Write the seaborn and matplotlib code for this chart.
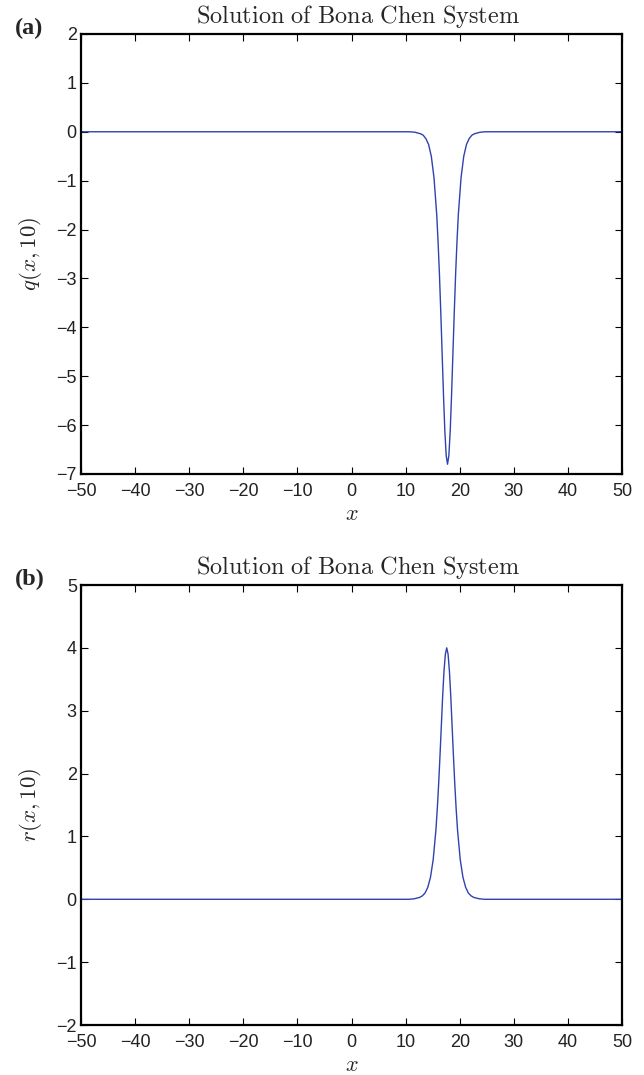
import matplotlib
matplotlib.use('Agg')
import matplotlib.pyplot as plt
import seaborn as sns
import pandas as pd

# values (x, q) and (x, r)
q_x = [-50, 10.75, 11.75, 12.75, 13.25, 13.75, 14.25, 14.75, 15.25, 15.75, 16.0, 16.25,
       16.5, 16.75, 17.0, 17.25, 17.5, 17.75, 18.0, 18.25, 18.5, 18.75, 19.0, 19.25,
       19.5, 19.75, 20.25, 20.75, 21.25, 21.75, 22.25, 22.75, 23.75, 24.75, 50]
q_y = [0, 0, -0.01, -0.04, -0.07, -0.14, -0.26, -0.50, -0.94, -1.69, -2.24, -2.90,
       -3.68, -4.52, -5.37, -6.11, -6.62, -6.80, -6.62, -6.11, -5.37, -4.52, -3.68, -2.90,
       -2.24, -1.69, -0.94, -0.50, -0.26, -0.14, -0.07, -0.04, -0.01, 0, 0]

r_x = [-50, 10.6, 11.6, 12.6, 13.1, 13.6, 14.1, 14.6, 15.1, 15.6, 15.85, 16.1,
       16.35, 16.6, 16.85, 17.1, 17.35, 17.6, 17.85, 18.1, 18.35, 18.6, 18.85, 19.1,
       19.35, 19.6, 20.1, 20.6, 21.1, 21.6, 22.1, 22.6, 23.6, 24.6, 50]
r_y = [0, 0, 0.008, 0.03, 0.055, 0.10, 0.19, 0.35, 0.63, 1.10, 1.43, 1.82,
       2.27, 2.75, 3.23, 3.63, 3.90, 4.00, 3.90, 3.63, 3.23, 2.75, 2.27, 1.82,
       1.43, 1.10, 0.63, 0.35, 0.19, 0.10, 0.055, 0.03, 0.008, 0, 0]

x_ticks = list(range(-50, 51, 10))
q_ticks = list(range(-7, 3))
r_ticks = list(range(-2, 6))

title = r'$\mathrm{Solution\ of\ Bona\ Chen\ System}$'
line_color = '#2f42ad'

sns.set_style('ticks')
plt.rcParams['font.family'] = ['Liberation Sans', 'DejaVu Sans']
plt.rcParams['mathtext.fontset'] = 'cm'

fig = plt.figure(figsize=(6.44, 10.75), dpi=100)
W, H = 644, 1075
ax1 = fig.add_axes([81 / W, 1 - 474 / H, 541 / W, 440 / H])
ax2 = fig.add_axes([81 / W, 1 - 1025 / H, 541 / W, 440 / H])

df_q = pd.DataFrame({'x': q_x, 'q': q_y})
df_r = pd.DataFrame({'x': r_x, 'r': r_y})

sns.lineplot(data=df_q, x='x', y='q', ax=ax1, color=line_color, linewidth=1.0, sort=False)
sns.lineplot(data=df_r, x='x', y='r', ax=ax2, color=line_color, linewidth=1.0, sort=False)

panels = [(ax1, q_ticks, r'$q(x,10)$', '(a)', 28),
          (ax2, r_ticks, r'$r(x,10)$', '(b)', 579)]
for ax, yt, ylab, tag, tag_y in panels:
    ax.set_xlim(-50, 50)
    ax.set_ylim(yt[0], yt[-1])
    ax.set_xticks(x_ticks)
    ax.set_yticks(yt)
    ax.tick_params(direction='in', top=True, right=True, length=5, width=0.8,
                   labelsize=13, colors='black', labelcolor='#222222')
    ax.tick_params(axis='x', pad=6.5)
    ax.tick_params(axis='y', pad=3)
    for s in ax.spines.values():
        s.set_linewidth(1.6)
        s.set_color('black')
    ax.set_title(title, fontsize=17.5, pad=8, x=0.512)
    ax.set_xlabel(r'$x$', fontsize=16, labelpad=3)
    ax.set_ylabel(ylab, fontsize=16.5, labelpad=9)
    fig.text(15 / W, 1 - tag_y / H, tag, fontfamily='Liberation Serif',
             fontweight='bold', fontsize=17.5, ha='left', va='center')

fig.savefig('out.png', dpi=100)
